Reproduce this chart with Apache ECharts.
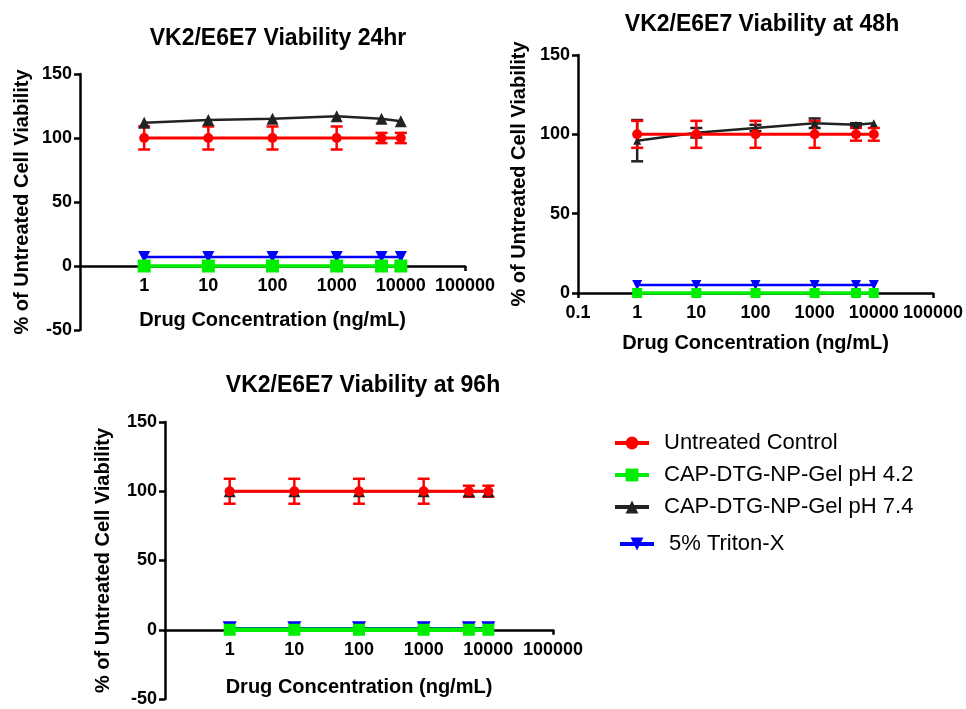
<!DOCTYPE html>
<html><head><meta charset="utf-8">
<script src="https://cdn.jsdelivr.net/npm/echarts@6/dist/echarts.min.js"></script>
<style>html,body{margin:0;padding:0;background:#fff}#c{width:966px;height:709px}</style>
</head><body><div id="c"></div>
<script>
// ---------- data ----------
const concentrations = [1, 10, 100, 1000, 5000, 10000];
const seriesNames = ['Untreated Control', 'CAP-DTG-NP-Gel pH 4.2', 'CAP-DTG-NP-Gel pH 7.4', '5% Triton-X'];
const panelTitles = ['VK2/E6E7 Viability 24hr', 'VK2/E6E7 Viability at 48h', 'VK2/E6E7 Viability at 96h'];
const xAxisTitle = 'Drug Concentration (ng/mL)';
const yAxisTitle = '% of Untreated Cell Viability';

// 24 h
const control24 = [100, 100, 100, 100, 100, 100];
const control24Err = [9, 9, 9, 9, 4, 4];
const ph42_24 = [0, 0, 0, 0, 0, 0];
const ph74_24 = [112, 114, 115, 117, 115, 113];
const ph74_24Err = [0, 0, 0, 0, 0, 0];
const triton24 = [7, 7, 7, 7, 7, 7];
// 48 h
const control48 = [100, 100, 100, 100, 100, 100];
const control48Err = [8.5, 8.5, 8.5, 8.5, 4, 4];
const ph42_48 = [0, 0, 0, 0, 0, 0];
const ph74_48 = [96, 101, 104, 107, 106, 107];
const ph74_48Err = [13, 3, 2, 3, 1, 0];
const triton48 = [5, 5, 5, 5, 5, 5];
// 96 h
const control96 = [100, 100, 100, 100, 100, 100];
const control96Err = [9, 9, 9, 9, 4, 4];
const ph42_96 = [0, 0, 0, 0, 0, 0];
const ph74_96 = [100, 100, 100, 100, 100, 100];
const ph74_96Err = [0, 0, 0, 0, 0, 0];
const triton96 = [1, 1, 1, 1, 1, 1];

// ---------- layout / style ----------
const panels = [
  { grid: { left: 80, top: 74, width: 385, height: 256 }, yMin: -50, showMinX: false,
    title: { left: 273, top: 22 }, xNameGap: 44, yNameGap: 48,
    data: [control24, ph42_24, ph74_24, triton24], err: [control24Err, ph74_24Err],
    sizes: [10, 13, 12, 12], greenWidth: 3.5 },
  { grid: { left: 578, top: 55, width: 356, height: 238 }, yMin: 0, showMinX: true,
    title: { left: 757, top: 8 }, xNameGap: 40, yNameGap: 49,
    data: [control48, ph42_48, ph74_48, triton48], err: [control48Err, ph74_48Err],
    sizes: [10, 10, 8, 10], greenWidth: 3.5 },
  { grid: { left: 165, top: 422, width: 388, height: 277 }, yMin: -50, showMinX: false,
    title: { left: 358, top: 369 }, xNameGap: 48, yNameGap: 52,
    data: [control96, ph42_96, ph74_96, triton96], err: [control96Err, ph74_96Err],
    sizes: [10, 12, 12, 14], greenWidth: 4.5 }
];
const colors = ['#ff0000', '#00ee00', '#222222', '#0000ff'];
const symbols = ['circle', 'rect', 'triangle', 'triangle'];
const rotates = [0, 0, 0, 180];
const lineWidths = [3, 3.5, 2.5, 2.5];
const axisColor = '#000';
const FONT = 'Liberation Sans, Arial, Helvetica, sans-serif';

function fmt(v) { return v >= 1 ? String(Math.round(v)) : String(+v.toPrecision(3)); }

function errRender(color) {
  return function (params, api) {
    const x = api.value(0), y = api.value(1), e = api.value(2);
    if (!e) return null;
    const top = api.coord([x, y + e]);
    const bot = api.coord([x, y - e]);
    const cap = 6;
    const st = { stroke: color, lineWidth: 2.5 };
    return { type: 'group', children: [
      { type: 'line', shape: { x1: top[0], y1: top[1], x2: bot[0], y2: bot[1] }, style: st },
      { type: 'line', shape: { x1: top[0] - cap, y1: top[1], x2: top[0] + cap, y2: top[1] }, style: st },
      { type: 'line', shape: { x1: bot[0] - cap, y1: bot[1], x2: bot[0] + cap, y2: bot[1] }, style: st }
    ] };
  };
}

const legendBase = { orient: 'vertical', itemGap: 10, itemWidth: 34, itemHeight: 16,
  lineStyle: { width: 4 },
  textStyle: { fontSize: 22, color: '#000', fontFamily: FONT, padding: [0, 0, 0, 10] } };

const option = {
  backgroundColor: '#fff',
  animation: false,
  textStyle: { fontFamily: FONT },
  title: [], grid: [], xAxis: [], yAxis: [], series: [],
  legend: [
    Object.assign({ left: 608, top: 427, data: seriesNames.slice(0, 3) }, legendBase),
    Object.assign({ left: 613, top: 528, data: seriesNames.slice(3) }, legendBase)
  ]
};

panels.forEach((p, i) => {
  // the x axis crosses the y axis at 0: shift it up from the grid bottom by the pixel distance of 0
  const zeroOffset = -p.grid.height * (0 - p.yMin) / (150 - p.yMin);
  option.title.push({ text: panelTitles[i], left: p.title.left, top: p.title.top, textAlign: 'center',
    textStyle: { fontSize: 23, fontWeight: 'bold', color: '#000', fontFamily: FONT } });
  option.grid.push(Object.assign({ containLabel: false }, p.grid));
  option.xAxis.push({
    type: 'log', logBase: 10, gridIndex: i, min: 0.1, max: 100000, splitNumber: 6,
    offset: zeroOffset,
    name: xAxisTitle, nameLocation: 'middle', nameGap: p.xNameGap,
    nameTextStyle: { fontSize: 20, fontWeight: 'bold', color: '#000', fontFamily: FONT },
    axisLine: { onZero: false, lineStyle: { color: axisColor, width: 2.5 } },
    axisTick: { show: true, length: 5, lineStyle: { color: axisColor, width: 2.5 } },
    axisLabel: { showMinLabel: p.showMinX, fontSize: 18, fontWeight: 'bold', color: '#000', margin: 11, formatter: fmt, fontFamily: FONT },
    splitLine: { show: false }, minorTick: { show: false }
  });
  option.yAxis.push({
    type: 'value', gridIndex: i, min: p.yMin, max: 150, interval: 50,
    name: yAxisTitle, nameLocation: 'middle', nameGap: p.yNameGap,
    nameTextStyle: { fontSize: 20, fontWeight: 'bold', color: '#000', fontFamily: FONT },
    axisLine: { show: true, onZero: false, lineStyle: { color: axisColor, width: 2.5 } },
    axisTick: { show: true, length: 6, lineStyle: { color: axisColor, width: 2.5 } },
    axisLabel: { fontSize: 18, fontWeight: 'bold', color: '#000', margin: 8, fontFamily: FONT },
    splitLine: { show: false }
  });
  // drawing order: Triton, pH 7.4 (+err), pH 4.2, control (+err)
  const order = [3, 2, 1, 0];
  order.forEach(k => {
    if (k === 2) {
      option.series.push({ type: 'custom', name: 'err74-' + i, xAxisIndex: i, yAxisIndex: i,
        renderItem: errRender(colors[2]), encode: { x: 0, y: 1 },
        data: concentrations.map((c, j) => [c, p.data[2][j], p.err[1][j]]) });
    }
    if (k === 0) {
      option.series.push({ type: 'custom', name: 'errCtl-' + i, xAxisIndex: i, yAxisIndex: i,
        renderItem: errRender(colors[0]), encode: { x: 0, y: 1 },
        data: concentrations.map((c, j) => [c, p.data[0][j], p.err[0][j]]) });
    }
    option.series.push({
      type: 'line', name: seriesNames[k], xAxisIndex: i, yAxisIndex: i,
      data: concentrations.map((c, j) => [c, p.data[k][j]]),
      symbol: symbols[k], symbolRotate: rotates[k], symbolSize: p.sizes[k], showSymbol: true,
      itemStyle: { color: colors[k], borderWidth: 0 },
      lineStyle: { color: colors[k], width: k === 1 ? p.greenWidth : lineWidths[k] },
      clip: false
    });
  });
});

const chart = echarts.init(document.getElementById('c'), null, { renderer: 'canvas' });
chart.setOption(option);
</script>
</body></html>
